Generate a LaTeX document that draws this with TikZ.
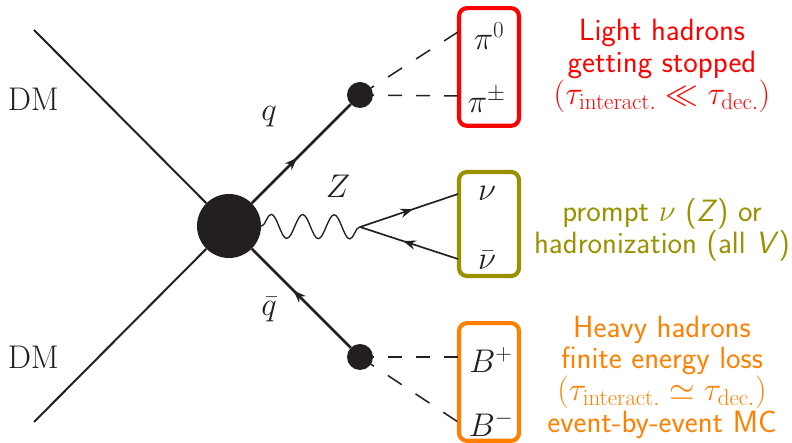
\documentclass[tikz,border=0pt]{standalone}
\usepackage{fix-cm}
\usepackage{amsmath,amssymb}
\usetikzlibrary{arrows.meta,decorations.markings,decorations.pathmorphing}
\definecolor{boxolive}{RGB}{153,145,0}
\definecolor{boxorange}{RGB}{255,128,0}
\definecolor{blobgray}{RGB}{35,31,32}
\newcommand{\bigmath}[1]{{\fontsize{28}{27}\selectfont #1}}

\begin{document}
\begin{tikzpicture}[>={Stealth[length=3.8mm,width=2.8mm]},
	lbl/.style={font=\fontsize{28}{32}\selectfont, text=blobgray, inner sep=0pt},
	blob/.style={circle, fill=blobgray, inner sep=0pt},
	hbox/.style={draw, line width=1.25mm, rounded corners=2.4mm, minimum width=1.8cm, inner sep=0pt},
	txt/.style={font=\fontsize{26.3}{27}\selectfont\sffamily, align=center, inner sep=0pt},
	midarrow/.style={postaction={decorate}, decoration={markings, mark=at position #1 with {\arrow{>}}}},
	flat/.style={dash pattern=on .42cm off .42cm, line width=.045cm, blobgray},
	slant/.style={dash pattern=on .5cm off .5cm, line width=.045cm, blobgray}]
	\useasboundingbox (0,0) rectangle (23.76,13.29);
	\node[blob, minimum size=1.92cm] (M) at (6.87,6.51) {};
	\node[blob, minimum size=.78cm] (Q) at (10.8,10.44) {};
	\node[blob, minimum size=.78cm] (R) at (10.8,2.58) {};
	\coordinate (V) at (10.8,6.48);
	\coordinate (A) at (1.02,12.39);
	\coordinate (B) at (1.02,.63);
	\coordinate (P0) at (13.74,12.33);
	\coordinate (P1) at (13.74,10.41);
	\coordinate (N0) at (13.74,7.47);
	\coordinate (N1) at (13.74,5.52);
	\coordinate (B0) at (13.74,2.58);
	\coordinate (B1) at (13.74,.63);
	\node[hbox, draw=red, minimum height=3.53cm] (redbox) at (14.67,11.28) {};
	\node[hbox, draw=boxolive, minimum height=3.12cm] (olivebox) at (14.67,6.57) {};
	\node[hbox, draw=boxorange, minimum height=3.53cm] (orangebox) at (14.67,1.83) {};
	\draw[line width=.06cm, blobgray] (A) -- (M);
	\draw[line width=.06cm, blobgray] (B) -- (M);
	\draw[line width=.075cm, blobgray, midarrow=.46] (M) -- (Q);
	\draw[line width=.075cm, blobgray, midarrow=.58] (R) -- (M);
	\draw[line width=.04cm, blobgray, decorate, decoration={snake, segment length=.945cm, amplitude=.36cm}] (M) -- (V);
	\draw[line width=.05cm, blobgray, midarrow=.54] (V) -- (N0);
	\draw[line width=.05cm, blobgray, midarrow=.56] (N1) -- (V);
	\draw[slant] (Q.center) -- (P0);
	\draw[flat] (Q.center) -- (P1);
	\draw[flat] (R.center) -- (B0);
	\draw[slant] (R.center) -- (B1);
	\node[lbl] (dmt) at (1,10.32) {DM};
	\node[lbl] (dmb) at (1,2.58) {DM};
	\node[lbl] (q) at (8.07,9.78) {$q$};
	\node[lbl] (qbar) at (8.07,4) {$\bar{q}$};
	\node[lbl] (zb) at (10.14,7.71) {$Z$};
	\node[lbl] (pi0) at (14.67,12.2) {$\pi^{0}$};
	\node[lbl] (pipm) at (14.6,10.3) {$\pi^{\pm}$};
	\node[lbl] (nu) at (14.61,7.5) {$\nu$};
	\node[lbl] (nubar) at (14.61,5.49) {$\bar{\nu}$};
	\node[lbl] (bp) at (14.73,2.5) {$B^{+}$};
	\node[lbl] (bm) at (14.73,.57) {$B^{-}$};
	\node[txt, text=red] (redtxt) at (19.86,11.31) {Light hadrons\\getting stopped\\\bigmath{$(\tau_{\rm interact.}\ll\tau_{\rm dec.})$}};
	\node[txt, text=boxolive] (olivetxt) at (19.86,6.39) {prompt $\nu$ (\textsl{Z}) or\\hadronization (all \textsl{V})};
	\node[txt, text=boxorange] (orangetxt) at (19.86,1.98) {Heavy hadrons\\finite energy loss\\\bigmath{$(\tau_{\rm interact.}\simeq\tau_{\rm dec.})$}\\event-by-event MC};
\end{tikzpicture}
\end{document}
